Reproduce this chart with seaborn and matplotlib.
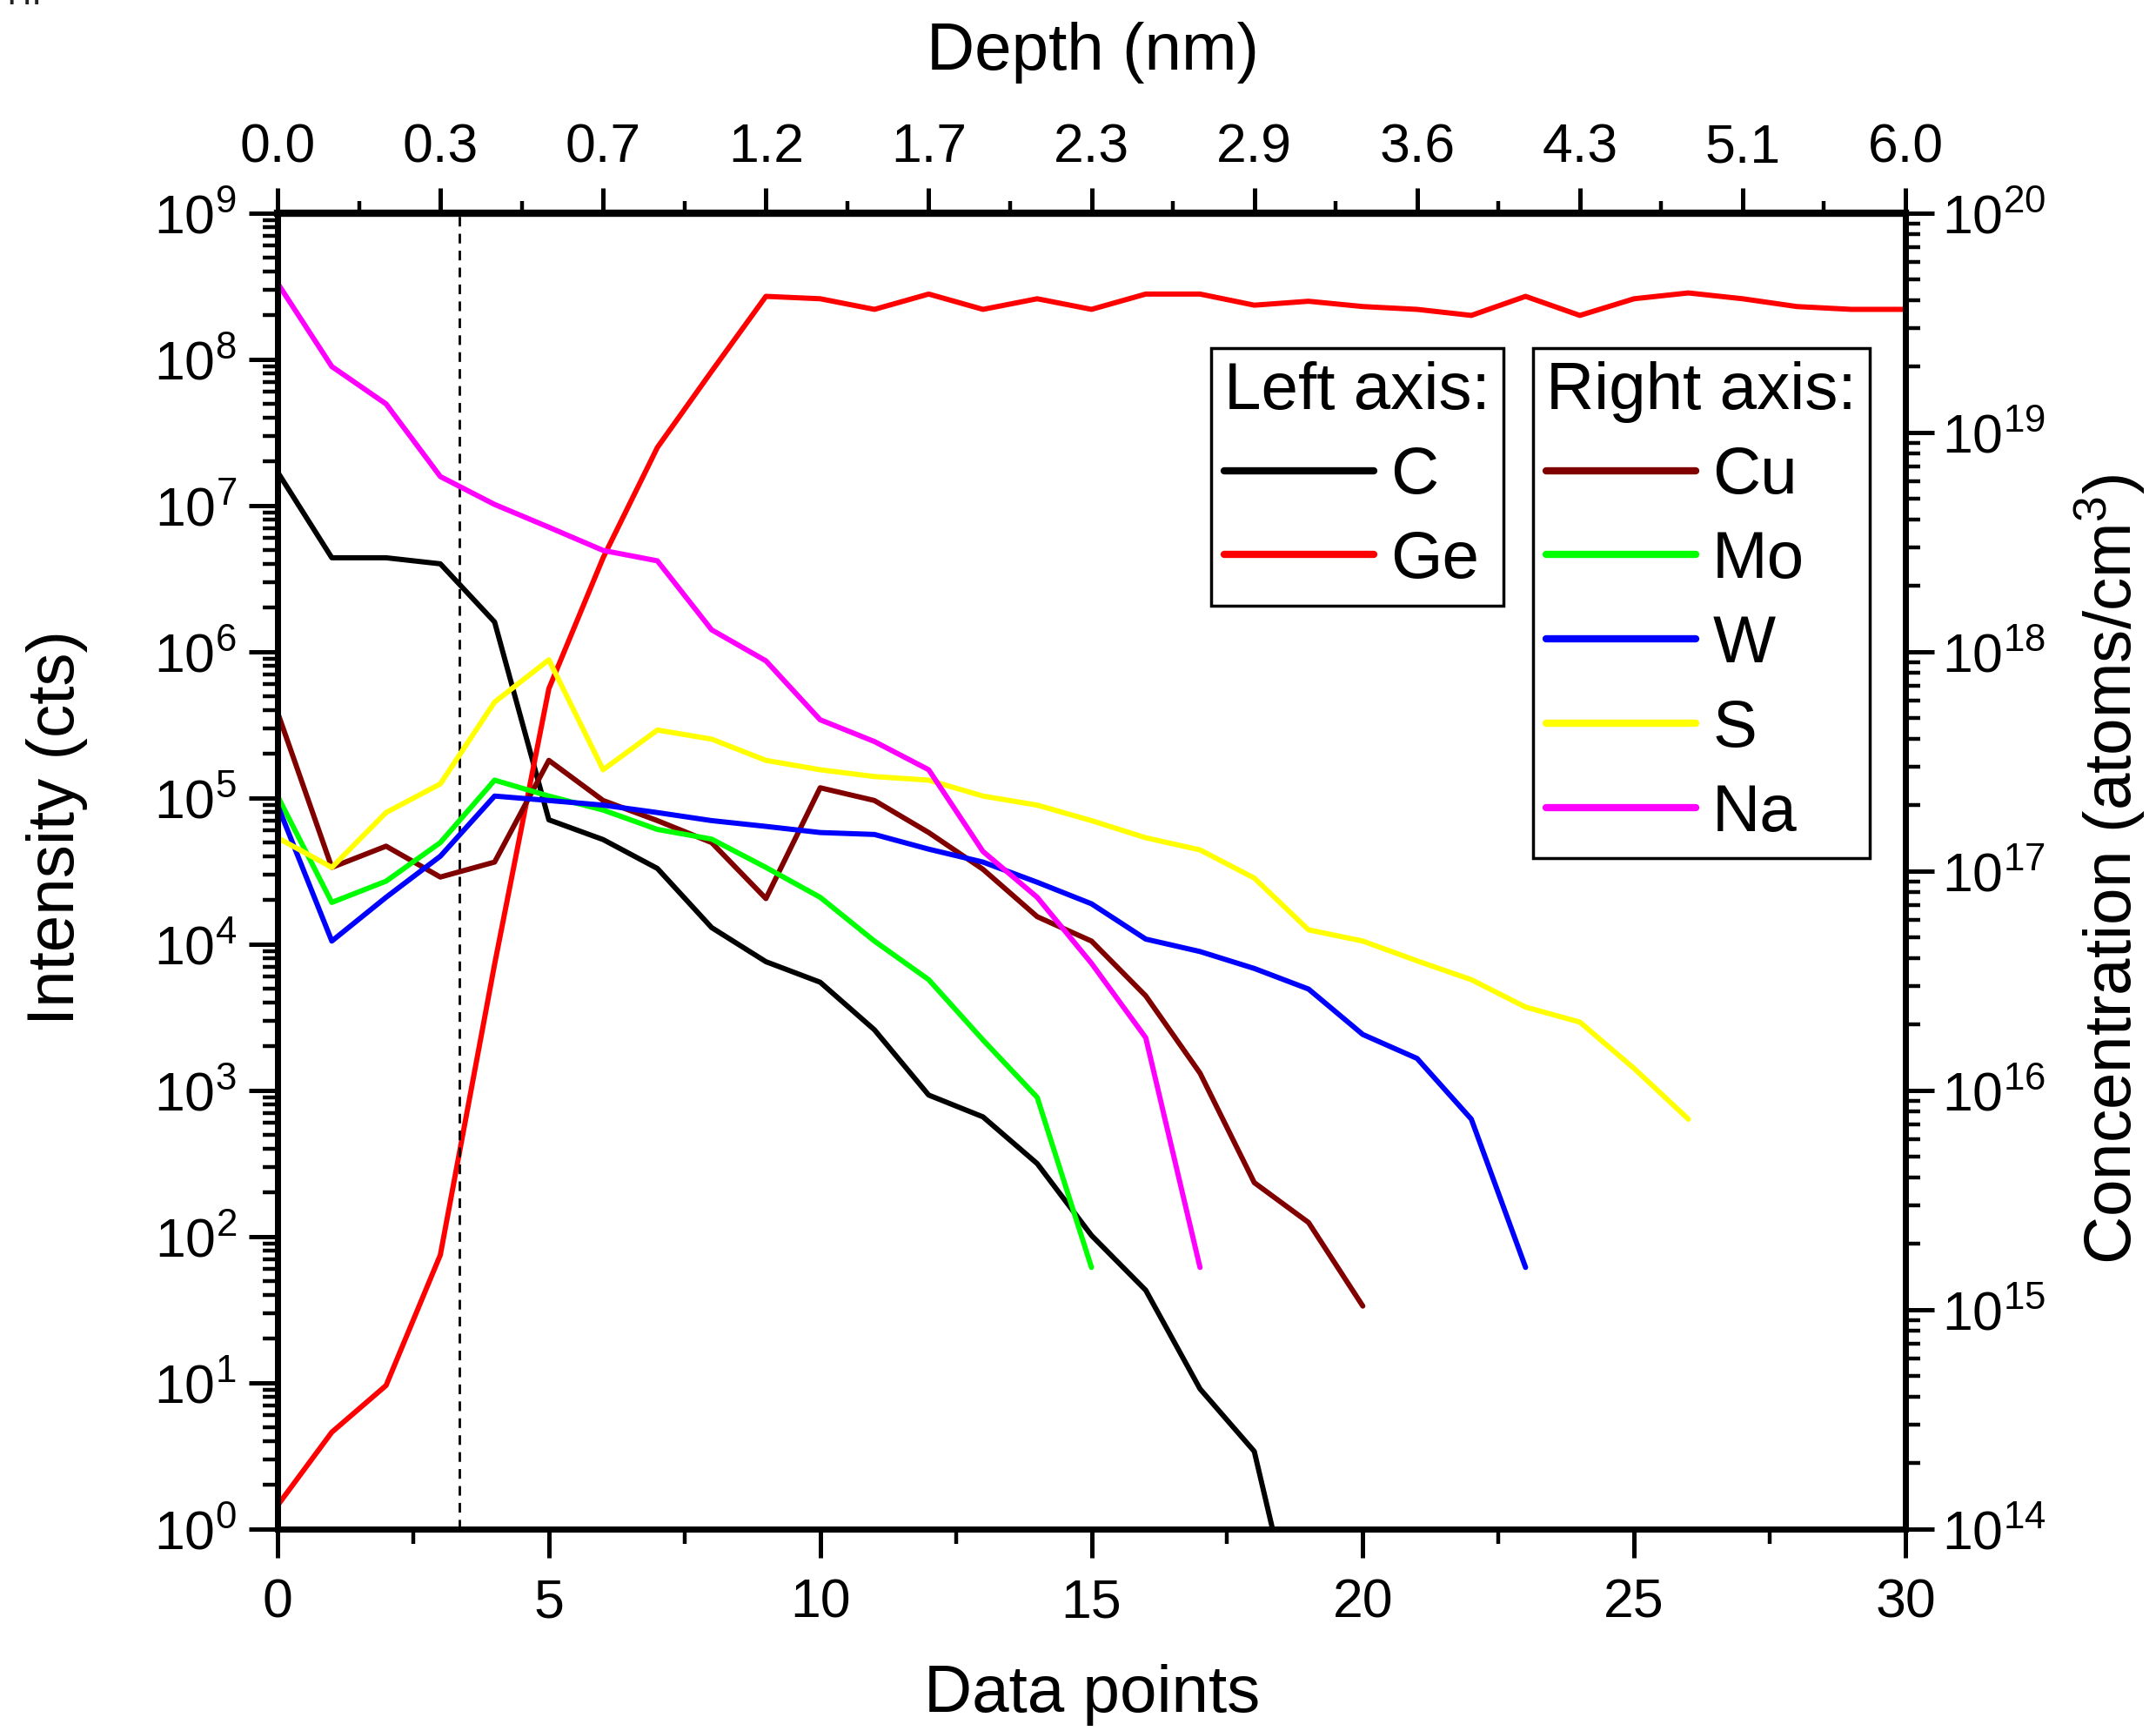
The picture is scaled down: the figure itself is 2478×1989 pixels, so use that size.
import numpy as np
import pandas as pd
import matplotlib
matplotlib.use("Agg")
import matplotlib.pyplot as plt
import seaborn as sns
from matplotlib.lines import Line2D
from matplotlib.ticker import LogLocator, NullFormatter, FixedLocator, FuncFormatter

# ---------------- data ----------------
C_vals = [1.7e7, 4.4e6, 4.4e6, 4.0e6, 1.6e6, 7.1e4, 5.2e4, 3.3e4, 1.3e4, 7.6e3,
          5.5e3, 2.6e3, 930, 660, 316, 102, 43, 9.1, 3.4, 0.09]
Ge_vals = [1.45, 4.6, 9.6, 75, 7.3e3, 5.6e5, 4.4e6, 2.5e7, 8.3e7, 2.7e8,
           2.6e8, 2.2e8, 2.8e8, 2.2e8, 2.6e8, 2.2e8, 2.8e8, 2.8e8, 2.35e8, 2.5e8,
           2.3e8, 2.2e8, 2.0e8, 2.7e8, 2.0e8, 2.6e8, 2.85e8, 2.6e8, 2.3e8, 2.2e8, 2.2e8]
Cu_vals = [5.3e17, 1.04e17, 1.3e17, 9.4e16, 1.1e17, 3.2e17, 2.1e17, 1.7e17, 1.35e17, 7.5e16,
           2.4e17, 2.1e17, 1.5e17, 1.02e17, 6.2e16, 4.8e16, 2.7e16, 1.2e16, 3.8e15, 2.5e15, 1.04e15]
Mo_vals = [2.2e17, 7.2e16, 9.0e16, 1.35e17, 2.6e17, 2.2e17, 1.9e17, 1.55e17, 1.4e17, 1.04e17,
           7.6e16, 4.8e16, 3.2e16, 1.7e16, 9.3e15, 1.56e15]
W_vals = [2.0e17, 4.8e16, 7.6e16, 1.17e17, 2.2e17, 2.1e17, 2.0e17, 1.85e17, 1.7e17, 1.6e17,
          1.5e17, 1.47e17, 1.26e17, 1.1e17, 8.9e16, 7.1e16, 4.9e16, 4.3e16, 3.6e16, 2.9e16,
          1.8e16, 1.4e16, 7.4e15, 1.56e15]
S_vals = [1.42e17, 1.04e17, 1.85e17, 2.5e17, 5.9e17, 9.2e17, 2.9e17, 4.4e17, 4.0e17, 3.2e17,
          2.9e17, 2.7e17, 2.6e17, 2.2e17, 2.0e17, 1.7e17, 1.42e17, 1.25e17, 9.3e16, 5.4e16,
          4.8e16, 3.9e16, 3.2e16, 2.4e16, 2.05e16, 1.26e16, 7.4e15]
Na_vals = [4.8e19, 2.0e19, 1.35e19, 6.3e18, 4.7e18, 3.7e18, 2.9e18, 2.6e18, 1.26e18, 9.1e17,
           4.9e17, 3.9e17, 2.9e17, 1.23e17, 7.6e16, 3.8e16, 1.74e16, 1.56e15]

left_series = {"C": C_vals, "Ge": Ge_vals}
right_series = {"Cu": Cu_vals, "Mo": Mo_vals, "W": W_vals, "S": S_vals, "Na": Na_vals}

depth_tick_points = [0, 3, 6, 9, 12, 15, 18, 21, 24, 27, 30]
depth_tick_labels = ["0.0", "0.3", "0.7", "1.2", "1.7", "2.3", "2.9", "3.6", "4.3", "5.1", "6.0"]
interface_point = 3.35

colors = {"C": "#000000", "Ge": "#ff0000", "Cu": "#800000", "Mo": "#00ff00",
          "W": "#0000ff", "S": "#ffff00", "Na": "#ff00ff"}

def to_long(series):
    rows = []
    for name, vals in series.items():
        for i, v in enumerate(vals):
            rows.append({"point": i, "value": v, "element": name})
    return pd.DataFrame(rows)

df_left = to_long(left_series)
df_right = to_long(right_series)

# ---------------- style ----------------
sns.set_style("ticks")
plt.rcParams["font.family"] = ["Liberation Sans", "DejaVu Sans"]
plt.rcParams["mathtext.default"] = "regular"
plt.rcParams["mathtext.fontset"] = "custom"
plt.rcParams["mathtext.rm"] = "Liberation Sans"
for k in ("text.color", "axes.labelcolor", "xtick.color", "ytick.color", "axes.edgecolor"):
    plt.rcParams[k] = "black"

TICK = 45
LABEL = 55
LW = 4.3

fig = plt.figure(figsize=(24.78, 19.89), dpi=100)
ax = fig.add_axes([319/2478, 1-1757/1989, (2190-319)/2478, (1757-245)/1989])
ax2 = ax.twinx()

ax.set_yscale("log")
ax2.set_yscale("log")

sns.lineplot(data=df_left, x="point", y="value", hue="element",
             palette={k: colors[k] for k in left_series}, ax=ax, legend=False,
             linewidth=LW, errorbar=None, sort=False)
sns.lineplot(data=df_right, x="point", y="value", hue="element",
             palette={k: colors[k] for k in right_series}, ax=ax2, legend=False,
             linewidth=LW, errorbar=None, sort=False)

ax.axvline(interface_point, color="black", linestyle=(0, (4, 3)), linewidth=2.0)

ax.set_xlim(0, 30)
ax.set_ylim(1, 1e9)
ax2.set_ylim(1e14, 1e20)

def pow_fmt(v, pos):
    return r"$10^{%d}$" % int(round(np.log10(v)))

for a in (ax, ax2):
    a.yaxis.set_major_locator(LogLocator(base=10, numticks=20))
    a.yaxis.set_minor_locator(LogLocator(base=10, subs=np.arange(2, 10), numticks=20))
    a.yaxis.set_major_formatter(FuncFormatter(pow_fmt))
    a.yaxis.set_minor_formatter(NullFormatter())

ax.set_xticks(np.arange(0, 31, 5))
ax.xaxis.set_minor_locator(FixedLocator(np.arange(2.5, 30, 5)))

MAJ, MIN = 24, 12.5
ax.tick_params(axis="both", which="major", direction="out", length=MAJ, width=3.6,
               labelsize=TICK, colors="black")
ax.tick_params(axis="both", which="minor", direction="out", length=MIN, width=3.2)
ax.tick_params(axis="x", which="major", pad=16)
ax.tick_params(axis="y", which="major", pad=10)
ax.tick_params(right=False, top=False, which="both")
ax2.tick_params(axis="y", which="major", direction="out", length=MAJ, width=3.6,
                labelsize=TICK, pad=6, colors="black")
ax2.tick_params(axis="y", which="minor", direction="out", length=MIN, width=3.2)

secax = ax.secondary_xaxis("top")
secax.set_xticks(depth_tick_points, labels=depth_tick_labels)
secax.xaxis.set_minor_locator(FixedLocator(np.arange(1.5, 30, 3)))
secax.tick_params(axis="x", which="major", direction="out", length=MAJ - 3, width=3.6,
                  labelsize=TICK, pad=12, colors="black")
secax.tick_params(axis="x", which="minor", direction="out", length=10, width=3.2)
secax.spines["top"].set_linewidth(6)

for a in (ax, ax2):
    for s in a.spines.values():
        s.set_linewidth(5)
        s.set_color("black")

ax.set_xlabel("Data points", fontsize=LABEL, va="center", ha="center")
ax.xaxis.set_label_coords(0.5065, 0.021, transform=fig.transFigure)
ax.set_ylabel("Intensity (cts)", fontsize=LABEL, va="center", ha="center")
ax.yaxis.set_label_coords(0.0266, 0.522, transform=fig.transFigure)
ax2.set_ylabel(r"Concentration (atoms/cm$^{3}$)", fontsize=LABEL, va="center",
               ha="center", rotation=90)
ax2.yaxis.set_label_coords(0.9786, 0.4977, transform=fig.transFigure)
secax.set_xlabel("Depth (nm)", fontsize=LABEL, va="center", ha="center")
secax.xaxis.set_label_coords(0.5069, 0.9698, transform=fig.transFigure)

# ---------------- legends ----------------
def handles(names):
    return [Line2D([], [], color=colors[n], linewidth=6.0) for n in names]

leg_kw = dict(loc="upper left", bbox_transform=fig.transFigure, fontsize=LABEL,
              title_fontsize=LABEL, frameon=True, fancybox=False, framealpha=1,
              edgecolor="black", borderaxespad=0, borderpad=0.2, handlelength=2.25,
              handletextpad=0.25, labelspacing=0.34, alignment="left")
leg1 = ax2.legend(handles(left_series), list(left_series), title="Left axis:",
                  bbox_to_anchor=(1392/2478, 1-400/1989), **leg_kw)
leg1.get_frame().set_linewidth(2.5)
ax2.add_artist(leg1)
leg2 = ax2.legend(handles(right_series), list(right_series), title="Right axis:",
                  bbox_to_anchor=(1762/2478, 1-400/1989), **leg_kw)
leg2.get_frame().set_linewidth(2.5)

fig.text(0.0, 1 - 14/1989, "TIF", fontsize=30, ha="left", va="bottom", color="#222222")

fig.savefig("out.png", dpi=100)
